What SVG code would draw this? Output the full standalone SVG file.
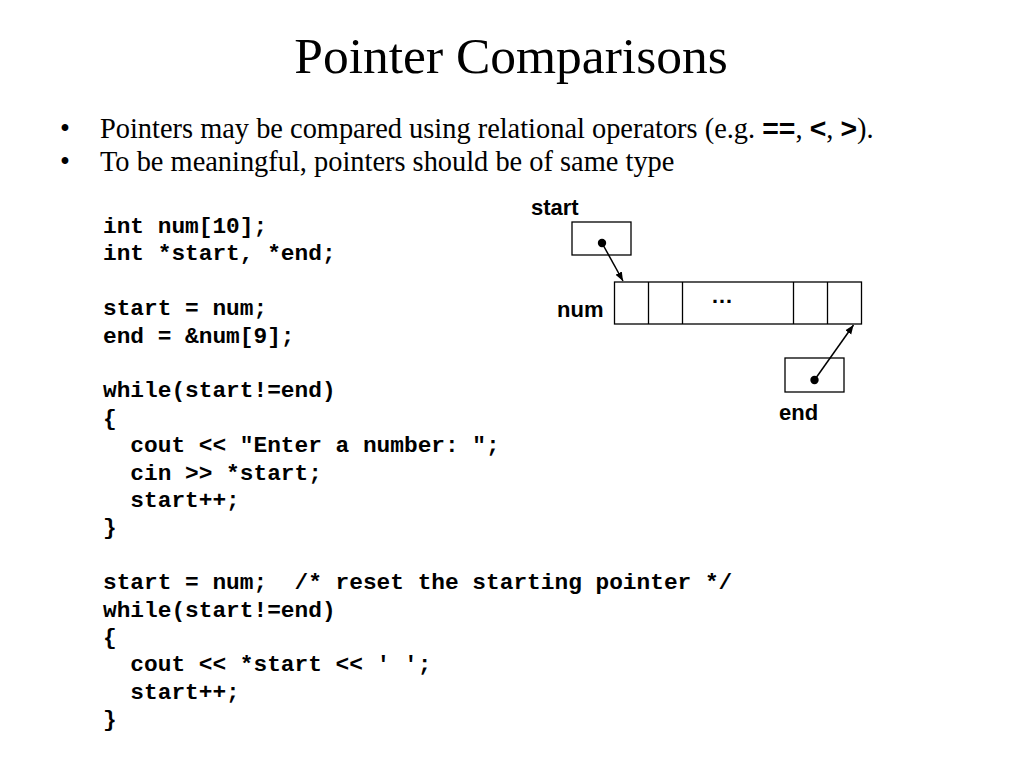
<svg xmlns="http://www.w3.org/2000/svg" width="1024" height="768" viewBox="0 0 1024 768">
<style>
.title{font-family:"Liberation Serif","Times New Roman",serif;font-size:51.5px;fill:#000}
.bul{font-family:"Liberation Serif","Times New Roman",serif;font-size:28.4px;fill:#000}
.op{font-family:"Liberation Sans",Arial,sans-serif;font-weight:bold}
.code{font-family:"Liberation Mono","Courier New",monospace;font-weight:bold;font-size:22.8px;fill:#000;white-space:pre}
.lbl{font-family:"Liberation Sans",Arial,sans-serif;font-weight:bold;font-size:22px;fill:#000}
.box{fill:#fff;stroke:#000;stroke-width:1.3}
.conn{stroke:#000;stroke-width:1.5;fill:none}
.div{stroke:#000;stroke-width:1.3}
</style>
<defs>
<marker id="arr" viewBox="0 0 10 10" refX="10" refY="5" markerWidth="9" markerHeight="9" orient="auto" markerUnits="userSpaceOnUse">
<path d="M0,1 L10,5 L0,9 z" fill="#000"/>
</marker>
</defs>
<rect width="1024" height="768" fill="#fff"/>
<text class="title" x="511" y="73" text-anchor="middle">Pointer Comparisons</text>
<g id="bullets">
<text class="bul" x="60" y="138">•</text>
<text class="bul" x="100" y="138">Pointers may be compared using relational operators (e.g. <tspan class="op">==</tspan>, <tspan class="op">&lt;</tspan>, <tspan class="op">&gt;</tspan>).</text>
<text class="bul" x="60" y="171">•</text>
<text class="bul" x="100" y="171">To be meaningful, pointers should be of same type</text>
</g>
<g id="code">
<text class="code" x="103" y="233">int num[10];</text>
<text class="code" x="103" y="260.4">int *start, *end;</text>
<text class="code" x="103" y="315.2">start = num;</text>
<text class="code" x="103" y="342.6">end = &amp;num[9];</text>
<text class="code" x="103" y="397.4">while(start!=end)</text>
<text class="code" x="103" y="424.8">{</text>
<text class="code" x="103" y="452.2">  cout &lt;&lt; "Enter a number: ";</text>
<text class="code" x="103" y="479.6">  cin &gt;&gt; *start;</text>
<text class="code" x="103" y="507">  start++;</text>
<text class="code" x="103" y="534.4">}</text>
<text class="code" x="103" y="589.2">start = num;  /* reset the starting pointer */</text>
<text class="code" x="103" y="616.6">while(start!=end)</text>
<text class="code" x="103" y="644">{</text>
<text class="code" x="103" y="671.4">  cout &lt;&lt; *start &lt;&lt; ' ';</text>
<text class="code" x="103" y="698.8">  start++;</text>
<text class="code" x="103" y="726.2">}</text>
</g>
<g id="start">
<text class="lbl" x="531" y="215">start</text>
<rect class="box" x="572" y="222" width="59" height="33"/>
<circle cx="602" cy="243" r="4.2" fill="#000"/>
</g>
<g id="num">
<text class="lbl" x="557" y="317">num</text>
<rect class="box" x="614.5" y="282" width="247" height="42"/>
<line class="div" x1="648.5" y1="282" x2="648.5" y2="324"/>
<line class="div" x1="682.5" y1="282" x2="682.5" y2="324"/>
<line class="div" x1="793.5" y1="282" x2="793.5" y2="324"/>
<line class="div" x1="827.5" y1="282" x2="827.5" y2="324"/>
<text class="lbl" x="722" y="303" text-anchor="middle" font-family="Liberation Serif" font-size="21">…</text>
</g>
<g id="end">
<rect class="box" x="785" y="358" width="59" height="34"/>
<circle cx="814.5" cy="380" r="4.2" fill="#000"/>
<text class="lbl" x="779" y="420">end</text>
</g>
<g id="connectors">
<line class="conn" x1="602" y1="243" x2="623" y2="281" marker-end="url(#arr)"/>
<line class="conn" x1="814.5" y1="380" x2="853.5" y2="325" marker-end="url(#arr)"/>
</g>
</svg>
